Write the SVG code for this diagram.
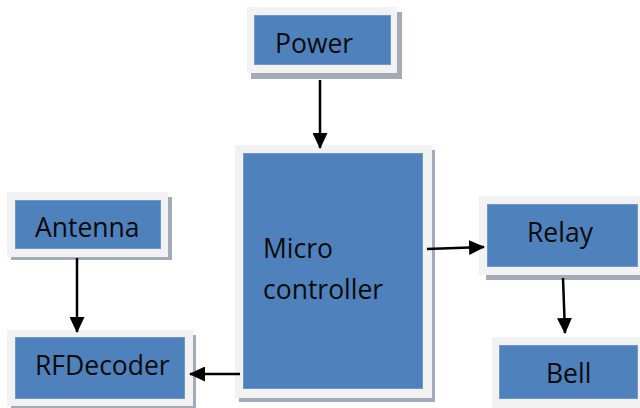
<svg xmlns="http://www.w3.org/2000/svg" width="640" height="408" viewBox="0 0 640 408">
  <style>
    .shadow { fill: #a3abb9; }
    .frame { fill: #f2f2f2; }
    .body { fill: #4f81bd; stroke: #6f97c9; stroke-width: 1; }
    .label { font-family: "Open Sans", "Noto Sans", sans-serif; font-size: 26.5px; fill: #0a0a0a; }
    .wire { stroke: #000000; stroke-width: 2.5; fill: none; marker-end: url(#head); }
  </style>
  <defs>
    <marker id="head" viewBox="0 0 16 15" refX="15" refY="7.5" markerWidth="16" markerHeight="15" markerUnits="userSpaceOnUse" orient="auto">
      <path d="M0,0 L16,7.5 L0,15 Z" fill="#000000"/>
    </marker>
  </defs>
  <rect width="640" height="408" fill="#ffffff"/>

  <g id="power">
    <rect class="shadow" x="251" y="12" width="151" height="67"/>
    <rect class="frame" x="247" y="7" width="150" height="66"/>
    <rect class="body" x="254.5" y="15.5" width="136" height="49"/>
    <text class="label" x="275" y="53">Power</text>
  </g>

  <g id="antenna">
    <rect class="shadow" x="11" y="197" width="161" height="63"/>
    <rect class="frame" x="7" y="192" width="161" height="65"/>
    <rect class="body" x="15.5" y="200.5" width="145" height="48"/>
    <text class="label" x="35" y="237">Antenna</text>
  </g>

  <g id="rfdecoder">
    <rect class="shadow" x="11" y="335" width="185" height="73"/>
    <rect class="frame" x="7" y="330" width="186" height="76"/>
    <rect class="body" x="15.5" y="337.5" width="169" height="61"/>
    <text class="label" x="35" y="375">RFDecoder</text>
  </g>

  <g id="microcontroller">
    <rect class="shadow" x="239" y="150" width="196" height="252"/>
    <rect class="frame" x="235" y="145" width="197" height="253"/>
    <rect class="body" x="243.5" y="153.5" width="179" height="235"/>
    <text class="label" x="263" y="258">Micro</text>
    <text class="label" x="263" y="299">controller</text>
  </g>

  <g id="relay">
    <rect class="shadow" x="486" y="201" width="160" height="79"/>
    <rect class="frame" x="479" y="196" width="165" height="79"/>
    <rect class="body" x="487.5" y="204.5" width="150" height="62"/>
    <text class="label" x="527" y="242">Relay</text>
  </g>

  <g id="bell">
    <rect class="frame" x="492" y="337" width="152" height="75"/>
    <rect class="body" x="499.5" y="345.5" width="138" height="53"/>
    <text class="label" x="546" y="383">Bell</text>
  </g>

  <g id="connectors">
    <line class="wire" x1="320" y1="80" x2="320" y2="148"/>
    <line class="wire" x1="77" y1="258" x2="77" y2="332"/>
    <line class="wire" x1="240" y1="374" x2="190" y2="374"/>
    <line class="wire" x1="427" y1="249" x2="484" y2="247"/>
    <line class="wire" x1="563" y1="278" x2="565" y2="333"/>
  </g>
</svg>
